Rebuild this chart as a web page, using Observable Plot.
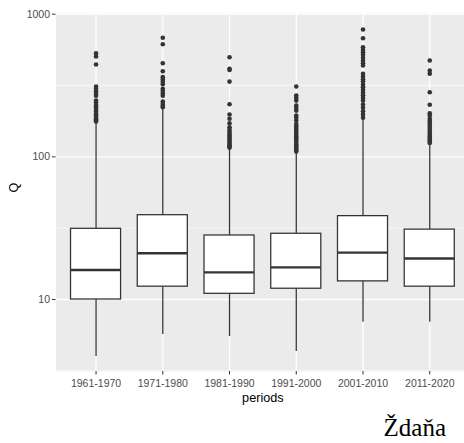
<!DOCTYPE html>
<html>
<head>
<meta charset="utf-8">
<script src="https://cdn.jsdelivr.net/npm/d3@7"></script>
<script src="https://cdn.jsdelivr.net/npm/@observablehq/plot@0.6"></script>
<style>
  html, body { margin: 0; padding: 0; background: #ffffff; }
  #chart svg { display: block; }
  .credit {
    font-family: "Liberation Serif", "Times New Roman", serif;
    font-size: 25px;
    line-height: 28px;
    text-align: right;
    padding-right: 18px;
    color: #000000;
  }
</style>
</head>
<body>
<div id="chart"></div>
<div class="credit">Ždaňa</div>
<script>
// Decades on the x axis
const periods = ["1961-1970", "1971-1980", "1981-1990", "1991-2000", "2001-2010", "2011-2020"];

// Box statistics of discharge Q per decade
const q1 = [10.0, 12.3, 10.96, 11.9, 13.4, 12.3];
const median = [16.1, 21.1, 15.5, 16.8, 21.3, 19.4];
const q3 = [31.3, 39.0, 28.1, 28.9, 38.4, 30.9];
const whiskerLow = [3.98, 5.68, 5.5, 4.32, 6.93, 6.93];
const whiskerHigh = [172, 219, 113, 107, 183, 122];

// Outlying values per decade
const outliers1961 = [533, 505, 444, 311, 300, 288, 277, 268, 248, 240, 232, 226, 220, 214, 208, 203, 198, 194, 190, 186, 183, 180, 177];
const outliers1971 = [683, 616, 453, 398, 362, 348, 336, 323, 300, 289, 278, 268, 244, 235, 228, 223];
const outliers1981 = [499, 414, 407, 337, 234, 198, 185, 172, 161, 155, 150, 145, 141, 137, 133, 129, 126, 123, 120, 118, 116];
const outliers1991 = [311, 269, 259, 248, 229, 221, 211, 195, 188, 180, 170, 164, 158, 153, 148, 143, 139, 135, 131, 127, 123, 120, 117, 114, 111, 109];
const outliers2001 = [781, 679, 587, 562, 541, 519, 495, 474, 453, 437, 382, 366, 350, 339, 321, 308, 295, 283, 270, 259, 248, 233, 221, 209, 198, 188];
const outliers2011 = [474, 403, 382, 284, 232, 202, 195, 185, 178, 171, 165, 159, 153, 148, 143, 139, 135, 131, 128, 125];

// Log-axis breaks
const majorBreaks = [10, 100, 1000];
const minorBreaks = [Math.sqrt(10), Math.sqrt(1000), Math.sqrt(100000)];

const stats = periods.map((p, i) => ({
  period: p, lo: whiskerLow[i], q1: q1[i], median: median[i], q3: q3[i], hi: whiskerHigh[i]
}));
const outlierLists = [outliers1961, outliers1971, outliers1981, outliers1991, outliers2001, outliers2011];
const outlierRows = outlierLists.flatMap((list, i) => list.map(q => ({period: periods[i], q})));

const ink = "#333333";

const chart = Plot.plot({
  width: 464,
  height: 414,
  marginLeft: 55.5,
  marginRight: -5.3,
  marginTop: 13,
  marginBottom: 43,
  style: {fontFamily: "'Liberation Sans', Arial, sans-serif", background: "#ffffff", overflow: "hidden"},
  x: {type: "band", domain: periods, paddingInner: 0.25, paddingOuter: 0.225, round: false, axis: null, label: null},
  y: {type: "log", domain: [3.128, 1011.4], axis: null, label: null},
  marks: [
    Plot.frame({fill: "#EBEBEB", stroke: "none"}),
    Plot.ruleY(minorBreaks, {stroke: "#ffffff", strokeWidth: 0.64}),
    Plot.ruleY(majorBreaks, {stroke: "#ffffff", strokeWidth: 1.27}),
    Plot.ruleX(periods, {x: d => d, stroke: "#ffffff", strokeWidth: 1.27}),
    Plot.ruleX(stats, {x: "period", y1: "lo", y2: "q1", stroke: ink, strokeWidth: 1.27}),
    Plot.ruleX(stats, {x: "period", y1: "q3", y2: "hi", stroke: ink, strokeWidth: 1.27}),
    Plot.barY(stats, {x: "period", y1: "q1", y2: "q3", fill: "#ffffff", stroke: ink, strokeWidth: 1.27}),
    Plot.tickY(stats, {x: "period", y: "median", stroke: ink, strokeWidth: 2.4}),
    Plot.dot(outlierRows, {x: "period", y: "q", r: 2.3, fill: ink, stroke: "none"}),
    Plot.axisY({ticks: majorBreaks, tickFormat: d => String(d), tickSize: 3.5, tickPadding: 2.5,
      fontSize: 10.5, fill: "#4D4D4D", stroke: ink, label: null}),
    Plot.axisX({tickSize: 3.5, tickPadding: 4.5, fontSize: 10.5, fill: "#4D4D4D", stroke: ink, label: null}),
    Plot.text(["periods"], {frameAnchor: "bottom", lineAnchor: "middle", dy: 26.2, fontSize: 12.7, fill: "#000000"}),
    Plot.text(["Q"], {frameAnchor: "left", lineAnchor: "middle", rotate: -90, dx: -41.8, fontSize: 12.7, fill: "#000000"})
  ]
});

document.getElementById("chart").append(chart);
</script>
</body>
</html>
